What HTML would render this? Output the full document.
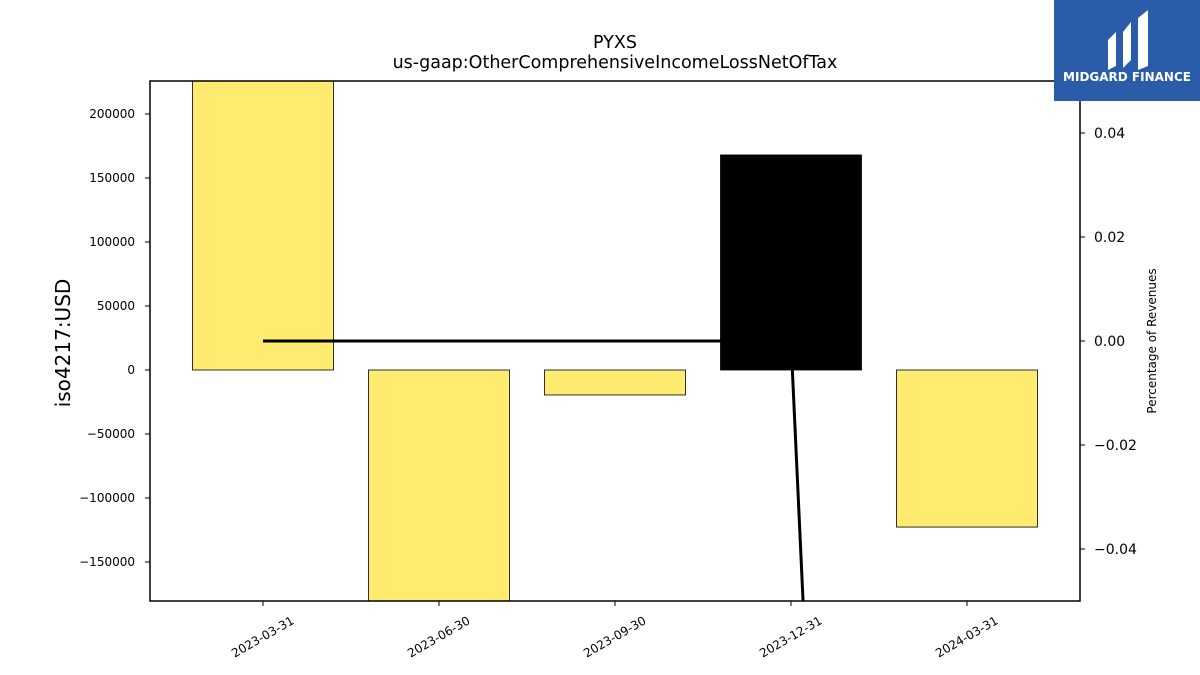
<!DOCTYPE html>
<html><head><meta charset="utf-8"><style>
html,body{margin:0;padding:0;background:#fff;overflow:hidden;width:1200px;height:675px;}
svg{display:block;}
svg text{font-family:"DejaVu Sans","Liberation Sans",sans-serif;}
</style></head><body>
<svg width="1200" height="675" xmlns="http://www.w3.org/2000/svg">
<rect width="1200" height="675" fill="#fff"/>
<text x="615" y="48" text-anchor="middle" font-size="17.5">PYXS</text>
<text x="615" y="68" text-anchor="middle" font-size="17.5">us-gaap:OtherComprehensiveIncomeLossNetOfTax</text>
<g id="plot"></g>
<g>
<rect x="1054" y="0" width="146" height="101" fill="#2a5caa"/>
<path d="M1108 40 L1116 32 L1116 66 L1108 70 Z M1123 32 L1131 22 L1131 60 L1123 68 Z M1138 18 L1148 10 L1148 66 L1138 70 Z" fill="#fff"/>
<text x="1127" y="81" text-anchor="middle" font-size="12" font-weight="bold" fill="#fff">MIDGARD FINANCE</text>
</g>
<text transform="translate(70,343) rotate(-90)" text-anchor="middle" font-size="20">iso4217:USD</text>
<text transform="translate(1156,341) rotate(-90)" text-anchor="middle" font-size="12">Percentage of Revenues</text>
</svg>
<script>
const categories=["2023-03-31","2023-06-30","2023-09-30","2023-12-31","2024-03-31"];
const barValues=[250000,-200000,-19500,168000,-122700];
const barColors=["#ffeb70","#ffeb70","#ffeb70","#000000","#ffeb70"];
const pctValues=[0,0,0,0,-0.73];
const leftTicks=[-150000,-100000,-50000,0,50000,100000,150000,200000];
const rightTicks=[-0.04,-0.02,0,0.02,0.04];
const L=150,R=1080,T=81,B=601;
const yL=v=>370-v*0.00128;
const yR=v=>341-v*5200;
const xC=i=>263+i*176;
const NS="http://www.w3.org/2000/svg";
const svg=document.querySelector("svg"),g=document.getElementById("plot");
function el(t,a,p){const e=document.createElementNS(NS,t);for(const k in a)e.setAttribute(k,a[k]);(p||g).appendChild(e);return e;}
const defs=el("defs",{});const cp=el("clipPath",{id:"clip"},defs);el("rect",{x:L,y:T,width:R-L,height:B-T},cp);
const bars=el("g",{"clip-path":"url(#clip)"});
barValues.forEach((v,i)=>{const y0=yL(0),y1=yL(v);
const r=el("rect",{x:xC(i)-70.5,y:Math.min(y0,y1),width:141,height:Math.abs(y1-y0),fill:barColors[i],stroke:"#000","stroke-width":0.8},bars);

});
const ln=el("polyline",{points:pctValues.map((v,i)=>xC(i)+","+yR(v)).join(" "),fill:"none",stroke:"#000","stroke-width":3},bars);


el("rect",{x:L,y:T,width:R-L,height:B-T,fill:"none",stroke:"#000","stroke-width":1.5});
const fmt=v=>v<0?"\u2212"+Math.abs(v):""+v;
leftTicks.forEach(v=>{const y=yL(v);el("line",{x1:L-5,x2:L,y1:y,y2:y,stroke:"#000"});
const t=el("text",{x:L-15,y:y+4,"text-anchor":"end","font-size":12});t.textContent=fmt(v);

});
rightTicks.forEach(v=>{const y=yR(v);el("line",{x1:R,x2:R+5,y1:y,y2:y,stroke:"#000"});
const t=el("text",{x:R+14,y:y+5,"font-size":14});t.textContent=(v<0?"\u2212":"")+Math.abs(v).toFixed(2);

});
categories.forEach((c,i)=>{const x=xC(i);el("line",{x1:x,x2:x,y1:B,y2:B+5,stroke:"#000"});
const t=el("text",{transform:`translate(${x+32},${B+22}) rotate(-30)`,"text-anchor":"end","font-size":12});t.textContent=c;

});
</script>
</body></html>
